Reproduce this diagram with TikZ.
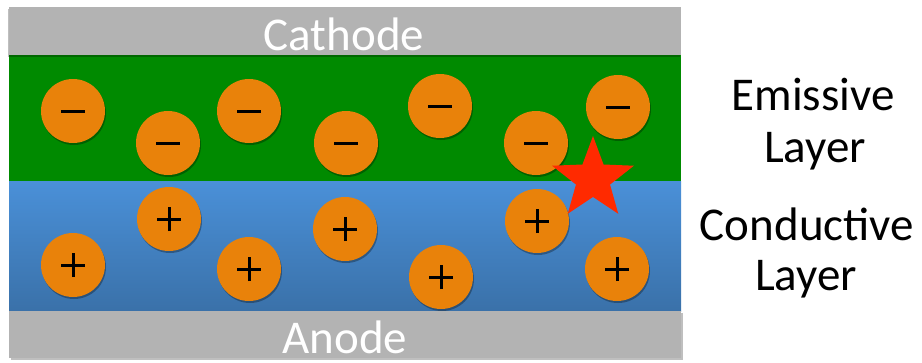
\documentclass[tikz,border=0pt]{standalone}
\usepackage{fontspec}
\setmainfont{Carlito}
\usetikzlibrary{shadows,shapes.geometric}
\definecolor{barGray}{HTML}{B3B3B3}
\definecolor{emGreen}{HTML}{008A00}
\definecolor{blueTop}{HTML}{4A90D8}
\definecolor{blueBot}{HTML}{3A71A9}
\definecolor{partOrange}{HTML}{E9820A}
\definecolor{starRed}{HTML}{FF2A00}
\begin{document}
\begin{tikzpicture}[x=1pt,y=-1pt,
  barfill/.style={fill=barGray, draw=none},
  particle/.style={circle, fill=partOrange, draw=none, minimum size=64pt, inner sep=0pt,
    drop shadow={shadow xshift=1pt, shadow yshift=-2pt, opacity=0.3, fill=black}},
  negparticle/.style={particle, path picture={
    \draw[line width=3pt] ([xshift=-12pt]path picture bounding box.center) -- ([xshift=12pt]path picture bounding box.center);}},
  posparticle/.style={particle, path picture={
    \draw[line width=3pt] ([xshift=-12pt]path picture bounding box.center) -- ([xshift=12pt]path picture bounding box.center);
    \draw[line width=3pt] ([yshift=-12pt]path picture bounding box.center) -- ([yshift=12pt]path picture bounding box.center);}},
  bartext/.style={text=white, font=\fontsize{47}{50}\selectfont, inner sep=0pt, anchor=base},
  sidetext/.style={text=black, font=\fontsize{47}{50}\selectfont, inner sep=0pt, anchor=base}
]
\useasboundingbox (0,0) rectangle (922,362);
% layers
\fill[emGreen] (9,55) rectangle (681,181);
\shade[top color=blueTop, bottom color=blueBot] (9,181) rectangle (681,311);
\fill[barfill, drop shadow={shadow xshift=-1.5pt, shadow yshift=-1.5pt, opacity=0.25, fill=black}] (9,7) rectangle (681,55);
\fill[barfill, drop shadow={shadow xshift=1.5pt, shadow yshift=-1.5pt, opacity=0.25, fill=black}] (9,311) rectangle (681,358);
\node[bartext] (cathode) at (344,50) {Cathode};
\node[bartext] (anode) at (345,353) {Anode};
% negative particles
\node[negparticle] (m1) at (73,111) {};
\node[negparticle] (m2) at (168,143) {};
\node[negparticle] (m3) at (249,111) {};
\node[negparticle] (m4) at (346,143) {};
\node[negparticle] (m5) at (440,106) {};
\node[negparticle] (m6) at (536,143) {};
\node[negparticle] (m7) at (618,107) {};
% positive particles
\node[posparticle] (p1) at (73,265) {};
\node[posparticle] (p2) at (169,219) {};
\node[posparticle] (p3) at (249,269) {};
\node[posparticle] (p4) at (345,229) {};
\node[posparticle] (p5) at (441,277) {};
\node[posparticle] (p6) at (537,221) {};
\node[posparticle] (p7) at (617,269) {};
% star
\node[star, star points=5, star point ratio=2.4, minimum size=86pt, inner sep=0pt,
      fill=starRed, draw=none] (recomb) at (593,179) {};
% side labels
\node[sidetext] (em1) at (813,110) {Emissive};
\node[sidetext] (em2) at (815,162) {Layer};
\node[sidetext] (co1) at (807,240) {Conductive};
\node[sidetext] (co2) at (806,290) {Layer};
\end{tikzpicture}
\end{document}
